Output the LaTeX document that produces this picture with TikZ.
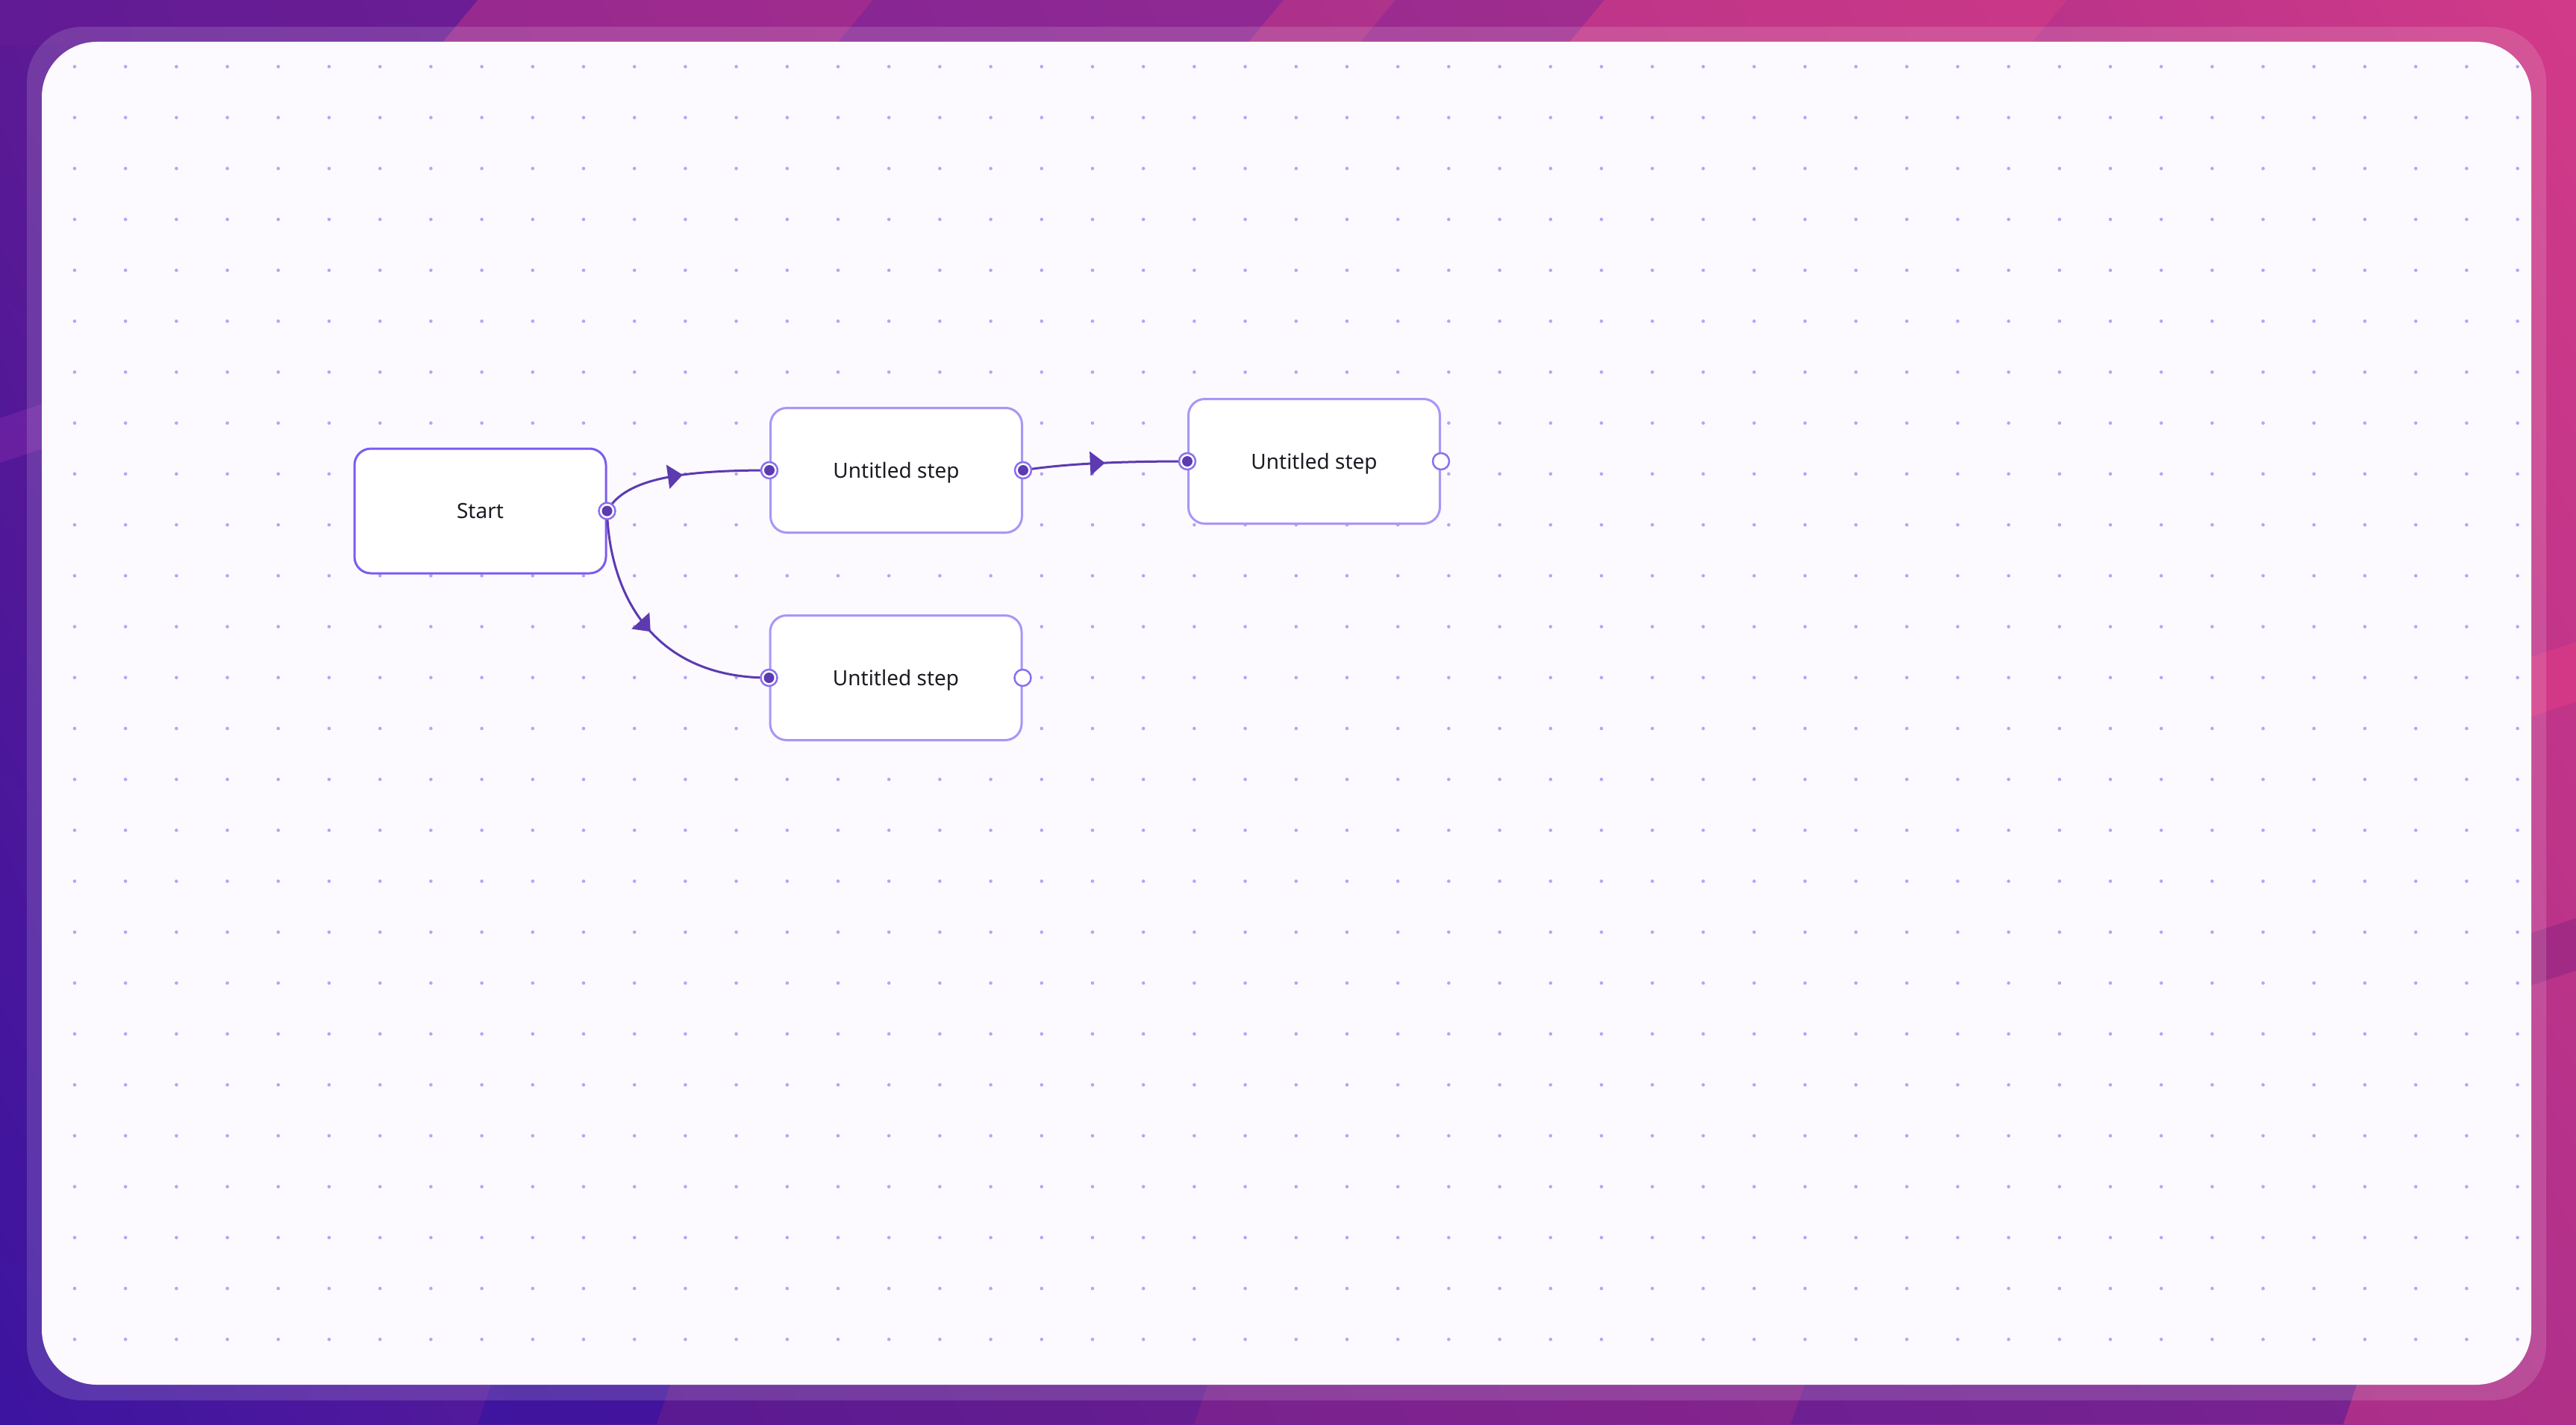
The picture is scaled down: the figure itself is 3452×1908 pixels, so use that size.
\documentclass[tikz,border=0pt]{standalone}
\usepackage{fontspec}
\newfontfamily\uifont{Noto Sans}
\usetikzlibrary{arrows.meta,decorations.markings,shadings}
\definecolor{edgecol}{HTML}{5C3BB0}
\definecolor{startline}{HTML}{7B5CF0}
\definecolor{stepline}{HTML}{A996F6}
\definecolor{portline}{HTML}{8A70F0}
\definecolor{gridcol}{HTML}{B3A6F5}
\definecolor{panelcol}{HTML}{FCFAFF}
\definecolor{textcol}{HTML}{1C1B22}
\definecolor{bgUL}{HTML}{5C1A94}
\definecolor{bgUR}{HTML}{D23A88}
\definecolor{bgLL}{HTML}{3C14A0}
\definecolor{bgLR}{HTML}{B0308A}
\begin{document}
\begin{tikzpicture}[x=1pt,y=-1pt,
  stepbox/.style={rectangle, rounded corners=22pt, minimum width=337pt, minimum height=167pt,
    draw=stepline, line width=3pt, fill=white, text=textcol,
    text height=20pt, text depth=0pt,
    font=\uifont\fontsize{28}{33}\selectfont},
  startbox/.style={stepbox, draw=startline},
  port/.style={circle, minimum size=22pt, inner sep=0pt, draw=portline, line width=2.5pt, fill=white},
  portdot/.style={circle, minimum size=14pt, inner sep=0pt, fill=edgecol},
  flowedge/.style={draw=edgecol, line width=3pt, postaction={decorate},
    decoration={markings, mark=at position 0.5 with {\arrow[edgecol]{Triangle[length=20pt,width=32pt]}}}},
  stripe/.style={opacity=0.55}]
\useasboundingbox (0,0) rectangle (3452,1908);
% background
\shade[upper left=bgUL, upper right=bgUR, lower left=bgLL, lower right=bgLR] (0,0) rectangle (3452,1908);
% top stripes
\fill[stripe, fill={rgb,255:red,184;green,49;blue,142}] (640,0) -- (1170,0) -- (1120,60) -- (590,60) -- cycle;
\fill[stripe, fill={rgb,255:red,140;green,40;blue,152}] (1170,0) -- (1720,0) -- (1670,60) -- (1120,60) -- cycle;
\fill[stripe, fill={rgb,255:red,192;green,56;blue,138}] (1720,0) -- (1870,0) -- (1820,60) -- (1670,60) -- cycle;
\fill[stripe, fill={rgb,255:red,156;green,44;blue,146}] (1870,0) -- (2150,0) -- (2100,60) -- (1820,60) -- cycle;
\fill[stripe, fill={rgb,255:red,214;green,60;blue,134}] (2150,0) -- (2770,0) -- (2720,60) -- (2100,60) -- cycle;
\fill[stripe, fill={rgb,255:red,102;green,28;blue,150}] (0,0) -- (640,0) -- (590,60) -- (0,60) -- cycle;
% bottom stripes
\fill[stripe, fill={rgb,255:red,48;green,16;blue,160}] (660,1850) -- (900,1850) -- (880,1908) -- (640,1908) -- cycle;
\fill[stripe, fill={rgb,255:red,92;green,26;blue,140}] (900,1850) -- (1620,1850) -- (1600,1908) -- (880,1908) -- cycle;
\fill[stripe, fill={rgb,255:red,126;green,34;blue,138}] (1620,1850) -- (2420,1850) -- (2400,1908) -- (1600,1908) -- cycle;
\fill[stripe, fill={rgb,255:red,84;green,26;blue,148}] (2420,1850) -- (3160,1850) -- (3140,1908) -- (2400,1908) -- cycle;
\fill[stripe, fill={rgb,255:red,176;green,48;blue,136}] (3160,1850) -- (3452,1850) -- (3452,1908) -- (3140,1908) -- cycle;
% side stripes
\fill[stripe, fill={rgb,255:red,124;green,40;blue,168}] (0,560) -- (60,540) -- (60,600) -- (0,620) -- cycle;
\fill[stripe, fill={rgb,255:red,226;green,60;blue,132}] (3392,880) -- (3452,860) -- (3452,940) -- (3392,960) -- cycle;
\fill[stripe, fill={rgb,255:red,142;green,36;blue,128}] (3392,1250) -- (3452,1230) -- (3452,1300) -- (3392,1320) -- cycle;
% frame band and panel
\fill[white, opacity=0.14, rounded corners=74pt] (36,36) rectangle (3412,1876);
\fill[panelcol, rounded corners=74pt] (56,56) rectangle (3392,1855);
% dot grid
\foreach \i in {0,...,48}{
  \foreach \j in {0,...,25}{
    \fill[gridcol] (100+68.2*\i, 89.3+68.2*\j) circle (2.3pt);
  }
}
% nodes
\node[startbox] (start) at (643.5,684.5) {Start};
\node[stepbox] (stepA) at (1201,630) {Untitled step};
\node[stepbox] (stepB) at (1761,618) {Untitled step};
\node[stepbox] (stepC) at (1200.5,908) {Untitled step};
% port centres
\coordinate (s-out) at (start.east);
\coordinate (a-in) at (stepA.west);
\coordinate (a-out) at (stepA.east);
\coordinate (b-in) at (stepB.west);
\coordinate (b-out) at (stepB.east);
\coordinate (c-in) at (stepC.west);
\coordinate (c-out) at (stepC.east);
% connectors
\draw[flowedge] (s-out) .. controls +(23,-40) and +(-132,0) .. (a-in);
\draw[flowedge] (s-out) .. controls +(3,105) and +(-161,0) .. (c-in);
\draw[flowedge] (a-out) .. controls +(50,-8) and +(-100,0) .. (b-in);
% ports
\node[port] (ps-out) at (s-out) {};
\node[portdot] (ds-out) at (s-out) {};
\node[port] (pa-in) at (a-in) {};
\node[portdot] (da-in) at (a-in) {};
\node[port] (pa-out) at (a-out) {};
\node[portdot] (da-out) at (a-out) {};
\node[port] (pb-in) at (b-in) {};
\node[portdot] (db-in) at (b-in) {};
\node[port] (pb-out) at (b-out) {};
\node[port] (pc-in) at (c-in) {};
\node[portdot] (dc-in) at (c-in) {};
\node[port] (pc-out) at (c-out) {};
\end{tikzpicture}
\end{document}
